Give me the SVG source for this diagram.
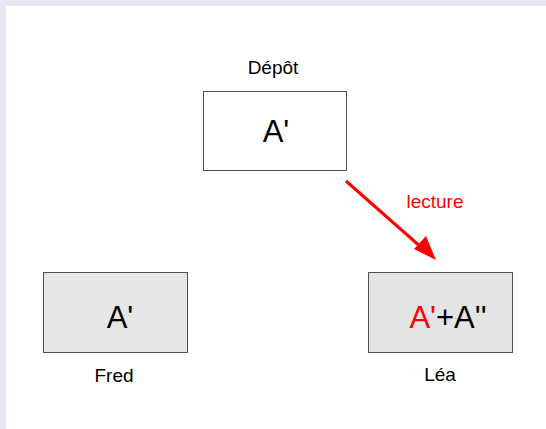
<svg xmlns="http://www.w3.org/2000/svg" width="546" height="429" viewBox="0 0 546 429">
<style>
.box{stroke:#505050;stroke-width:1}
.lbl{font-family:"Liberation Sans",Arial,sans-serif;font-size:19px;fill:#000;text-anchor:middle}
.big{font-family:"Liberation Sans",Arial,sans-serif;font-size:31px;fill:#000;text-anchor:middle}
.red{fill:#ff0000}
</style>
<rect x="0" y="0" width="546" height="429" fill="#e8e8f4"/>
<rect x="6" y="6" width="540" height="423" fill="#ffffff"/>
<g id="depot">
<rect class="box" x="203.5" y="91.5" width="143" height="79" fill="#ffffff"/>
<text class="lbl" x="273" y="74">Dépôt</text>
<text class="big" x="276" y="142">A'</text>
</g>
<g id="fred">
<rect class="box" x="43.5" y="272.5" width="144" height="80" fill="#e6e6e6"/>
<text class="big" x="120" y="328">A'</text>
<text class="lbl" x="114" y="382">Fred</text>
</g>
<g id="lea">
<rect class="box" x="368.5" y="272.5" width="144" height="80" fill="#e4e4e4"/>
<text class="big" x="448" y="328"><tspan class="red">A'</tspan>+A''</text>
<text class="lbl" x="440" y="381">Léa</text>
</g>
<g id="connectors">
<line x1="346" y1="181" x2="422" y2="248" stroke="#ff0000" stroke-width="3"/>
<path d="M436,260 L414,249 L426,236 z" fill="#ff0000"/>
<text class="lbl red" x="435" y="208">lecture</text>
</g>
</svg>
